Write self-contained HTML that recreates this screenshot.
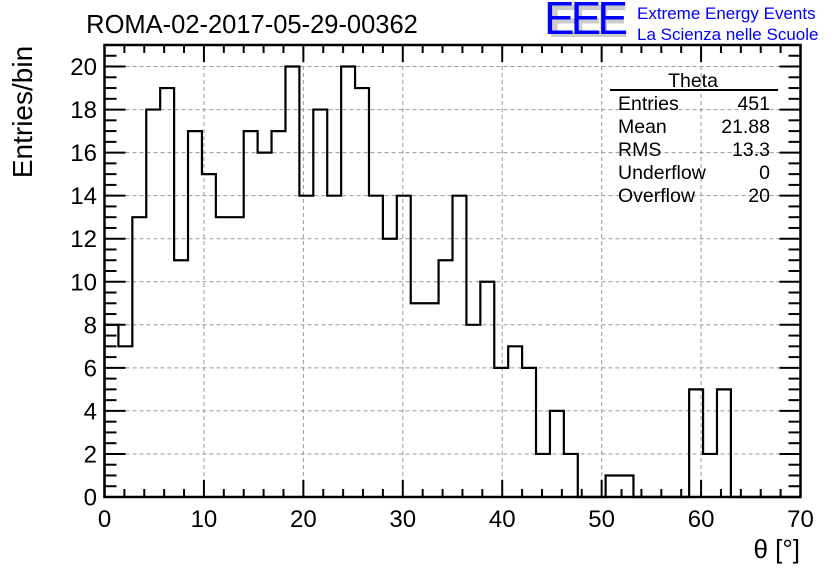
<!DOCTYPE html>
<html><head><meta charset="utf-8"><style>
body{margin:0;background:#fff}
svg{display:block;font-family:"Liberation Sans",sans-serif}
</style></head><body>
<svg width="836" height="572" viewBox="0 0 836 572">
<g id="grid"></g>
<g id="hist"></g>
<g id="axes"></g>
<text x="252" y="33" font-size="25.5" text-anchor="middle">ROMA-02-2017-05-29-00362</text>
<text transform="translate(32,112) rotate(-90)" font-size="28" text-anchor="middle">Entries/bin</text>
<text x="800" y="558" font-size="26" text-anchor="end">θ [°]</text>
<g>
<text x="548" y="37" font-size="46" fill="#ccc" font-weight="bold" textLength="80">EEE</text>
<text x="544" y="34" font-size="46" fill="#0000ff" textLength="84">EEE</text>
<text x="637" y="19" font-size="17" fill="#0000ff">Extreme Energy Events</text>
<text x="637" y="40" font-size="17" fill="#0000ff">La Scienza nelle Scuole</text>
</g>
<g font-size="19.5">
<text x="693" y="87" text-anchor="middle">Theta</text>
<line x1="610" y1="90" x2="778" y2="90" stroke="#000" stroke-width="2"/>
<text x="618" y="110">Entries</text><text x="770" y="110" text-anchor="end">451</text>
<text x="618" y="133">Mean</text><text x="770" y="133" text-anchor="end">21.88</text>
<text x="618" y="156">RMS</text><text x="770" y="156" text-anchor="end">13.3</text>
<text x="618" y="179">Underflow</text><text x="770" y="179" text-anchor="end">0</text>
<text x="618" y="202">Overflow</text><text x="770" y="202" text-anchor="end">20</text>
</g>
</svg>
<script>
const counts=[8,7,13,18,19,11,17,15,13,13,17,16,17,20,14,18,14,20,19,14,12,14,9,9,11,14,8,10,6,7,6,2,4,2,0,0,1,1,0,0,0,0,5,2,5,0,0,0,0,0];
const binWidth=[1.4];
const xTicks=[0,10,20,30,40,50,60,70];
const yTicks=[0,2,4,6,8,10,12,14,16,18,20];
const X0=104.5,X1=800.5,Y0=497,Y1=45,XMIN=0,XMAX=70,YMIN=0,YMAX=21;
const sx=v=>X0+(v-XMIN)/(XMAX-XMIN)*(X1-X0);
const sy=v=>Y0-(v-YMIN)/(YMAX-YMIN)*(Y0-Y1);
const NS="http://www.w3.org/2000/svg";
function mk(t,a,p){const e=document.createElementNS(NS,t);for(const k in a)e.setAttribute(k,a[k]);p.appendChild(e);return e;}
const grid=document.getElementById('grid'),hist=document.getElementById('hist'),axes=document.getElementById('axes');
xTicks.forEach(t=>{if(t>XMIN&&t<XMAX){const l=mk('line',{x1:sx(t),x2:sx(t),y1:Y0,y2:Y1,stroke:'#999','stroke-dasharray':'4,3','stroke-width':1},grid);

}});
yTicks.forEach(t=>{if(t>YMIN){const l=mk('line',{x1:X0,x2:X1,y1:sy(t),y2:sy(t),stroke:'#999','stroke-dasharray':'4,3','stroke-width':1},grid);

}});
let d='M'+sx(0)+','+sy(0);
counts.forEach((c,i)=>{const a=sx(i*binWidth[0]),b=sx((i+1)*binWidth[0]);d+=' L'+a+','+sy(c)+' L'+b+','+sy(c);});
d+=' L'+sx(counts.length*binWidth[0])+','+sy(0);
const p=mk('path',{d:d,fill:'none',stroke:'#000','stroke-width':2.2},hist);


const fr=mk('rect',{x:X0,y:Y1,width:X1-X0,height:Y0-Y1,fill:'none',stroke:'#000','stroke-width':2.5},axes);


for(let v=0;v<=70;v+=2){const maj=v%10===0,L=maj?17:8;
mk('line',{x1:sx(v),x2:sx(v),y1:Y0,y2:Y0-L,stroke:'#000','stroke-width':2},axes);
mk('line',{x1:sx(v),x2:sx(v),y1:Y1,y2:Y1+L,stroke:'#000','stroke-width':2},axes);}
for(let v=0;v<=21;v+=0.5){const maj=v%2===0,L=maj?21:12;
mk('line',{x1:X0,x2:X0+L,y1:sy(v),y2:sy(v),stroke:'#000','stroke-width':2},axes);
mk('line',{x1:X1,x2:X1-L,y1:sy(v),y2:sy(v),stroke:'#000','stroke-width':2},axes);}
xTicks.forEach(t=>{const e=mk('text',{x:sx(t),y:527,'font-size':24,'text-anchor':'middle'},axes);e.textContent=t;

});
yTicks.forEach(t=>{const e=mk('text',{x:97,y:sy(t)+8.5,'font-size':24,'text-anchor':'end'},axes);e.textContent=t;

});
</script>
</body></html>
